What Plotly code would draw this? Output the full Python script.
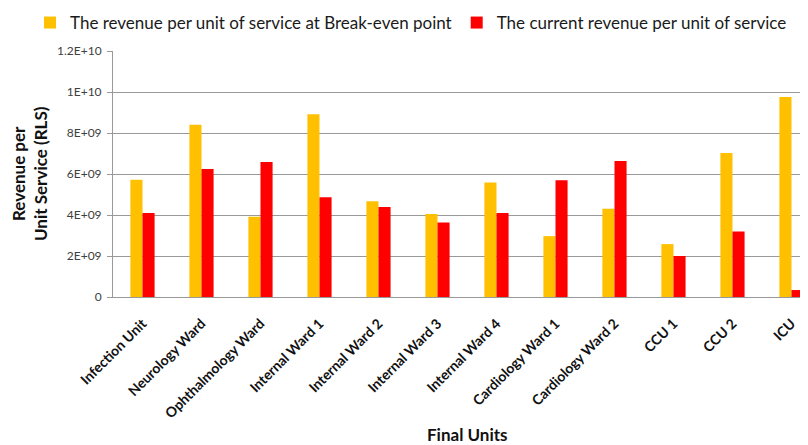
import plotly.graph_objects as go

categories = ["Infection Unit", "Neurology Ward", "Ophthalmology Ward", "Internal Ward 1",
              "Internal Ward 2", "Internal Ward 3", "Internal Ward 4", "Cardiology Ward 1",
              "Cardiology Ward 2", "CCU 1", "CCU 2", "ICU"]
breakeven = [5.72e9, 8.40e9, 3.91e9, 8.92e9, 4.67e9, 4.05e9, 5.59e9, 2.97e9, 4.30e9, 2.58e9, 7.03e9, 9.76e9]
current = [4.10e9, 6.25e9, 6.59e9, 4.86e9, 4.39e9, 3.63e9, 4.10e9, 5.69e9, 6.64e9, 2.00e9, 3.20e9, 0.34e9]
ytick_vals = [0, 2e9, 4e9, 6e9, 8e9, 1e10, 1.2e10]
ytick_text = ["0", "2E+09", "4E+09", "6E+09", "8E+09", "1E+10", "1.2E+10"]

FONT = "Lato, 'Open Sans', sans-serif"

fig = go.Figure()
fig.add_trace(go.Bar(x=categories, y=breakeven, name="The revenue per unit of service at Break-even point",
                     marker=dict(color="#FFC000", line=dict(width=0))))
fig.add_trace(go.Bar(x=categories, y=current, name="The current revenue per unit of service",
                     marker=dict(color="#FF0000", line=dict(width=0))))

# page body has an 8px margin; figure origin sits at page (8, 8)
OFF = 8
W, H = 800, 437
L, R, T, B = 113 - OFF, 0, 51 - OFF, 148
pw = W - L - R
ph = H - T - B


def px_x(page_x):
    return (page_x - OFF - L) / pw


def px_y(page_y):
    return 1 - (page_y - OFF - T) / ph


fig.update_layout(
    width=W, height=H,
    margin=dict(l=L, r=R, t=T, b=B, autoexpand=False),
    paper_bgcolor="white", plot_bgcolor="white",
    barmode="group", bargap=0.59, bargroupgap=0,
    font=dict(family=FONT, color="#404040"),
    legend=dict(orientation="h", x=px_x(30), y=px_y(5), xanchor="left", yanchor="top",
                font=dict(size=17, color="#1a1a1a", family=FONT), traceorder="normal",
                itemwidth=30, bgcolor="rgba(0,0,0,0)"),
    xaxis=dict(range=[-0.5, 11.28], tickangle=-45, showgrid=False, showline=True, linecolor="#999999",
               linewidth=1, ticks="", ticklabelstandoff=12, automargin=False,
               tickfont=dict(size=14, color="#111111", family=FONT, weight="bold")),
    yaxis=dict(range=[0, 1.2e10], tickvals=ytick_vals, ticktext=ytick_text, showgrid=True,
               gridcolor="#999999", gridwidth=1, showline=True, linecolor="#999999", linewidth=1,
               ticks="outside", ticklen=5, tickcolor="#999999", ticklabelstandoff=3, automargin=False,
               tickfont=dict(size=12, color="#404040", family=FONT),
               zeroline=False),
    annotations=[
        dict(text="<b>Revenue per<br>Unit Service (RLS)</b>", x=px_x(29), y=0.5, xref="paper", yref="paper",
             textangle=-90, showarrow=False, font=dict(size=17, color="#111111", family=FONT),
             xanchor="center", yanchor="middle"),
        dict(text="<b>Final Units</b>", x=px_x(467), y=px_y(434), xref="paper", yref="paper",
             showarrow=False, font=dict(size=17, color="#111111", family=FONT), xanchor="center", yanchor="middle"),
    ],
)

fig.write_html("out.html")
